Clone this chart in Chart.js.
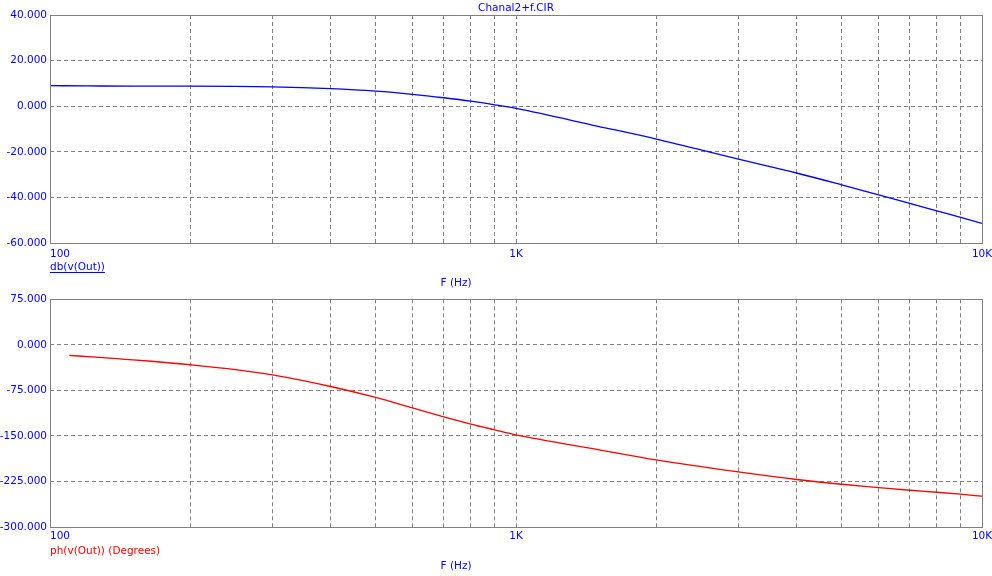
<!DOCTYPE html>
<html>
<head>
<meta charset="utf-8">
<script src="https://cdn.jsdelivr.net/npm/chart.js@4/dist/chart.umd.min.js"></script>
<style>
  body { margin: 0; background: #fff; }
  #wrap { position: relative; width: 992px; height: 576px; }
  canvas { position: absolute; left: 0; }
  #magChart { top: 0; }
  #phaseChart { top: 290px; }
</style>
</head>
<body>
<div id="wrap">
  <canvas id="magChart" width="992" height="290"></canvas>
  <canvas id="phaseChart" width="992" height="286"></canvas>
</div>
<script>
// Values
const magFreq = [100, 120, 150, 200, 300, 400, 500, 600, 700, 800, 900, 1000, 1500, 2000, 3000, 4000, 5000, 6000, 7000, 8000, 9000, 10000];
const magDb = [9.0, 8.9, 8.8, 8.8, 8.5, 7.7, 6.6, 5.2, 3.7, 2.2, 0.6, -1.0, -8.8, -14.4, -23.2, -29.3, -34.5, -38.9, -42.6, -45.9, -48.8, -51.4];

const phaseFreq = [110, 125, 145, 165, 200, 250, 300, 400, 500, 600, 700, 800, 900, 1000, 1500, 2000, 3000, 4000, 5000, 6000, 7000, 8000, 9000, 10000];
const phaseDeg = [-17.5, -20.2, -23.8, -27.0, -32.8, -40.8, -49.5, -68.6, -86.7, -104.0, -118.6, -130.5, -140.0, -148.3, -172.4, -189.5, -209.3, -221.8, -229.6, -235.0, -239.5, -242.8, -246.0, -249.3];

const freqGrid = [100, 200, 300, 400, 500, 600, 700, 800, 900, 1000, 2000, 3000, 4000, 5000, 6000, 7000, 8000, 9000, 10000];
const xLabelValues = [100, 1000, 10000];
const xLabelText = ["100", "1K", "10K"];

const FONT = "10.5px 'DejaVu Sans'";
const BLUE = "#0000ff";
const RED = "#ff0000";
const GRAY = "#808080";

function xy(xs, ys) {
  return xs.map((x, i) => ({ x: x, y: ys[i] }));
}

// hide the dashed line on the frame edges, the frame is drawn solid
function gridColor(ctx) {
  const n = ctx.scale.ticks.length;
  return (ctx.index === 0 || ctx.index === n - 1) ? "rgba(0,0,0,0)" : GRAY;
}

// frame + x labels + captions
function framePlugin(opts) {
  return {
    id: "frame",
    afterDraw(chart) {
      const c = chart.ctx;
      const a = chart.chartArea;
      const xs = chart.scales.x;
      c.save();
      c.strokeStyle = GRAY;
      c.lineWidth = 1;
      c.strokeRect(Math.round(a.left) + 0.5, Math.round(a.top) + 0.5,
        Math.round(a.right - a.left), Math.round(a.bottom - a.top));

      c.font = FONT;
      c.fillStyle = BLUE;
      c.textBaseline = "alphabetic";
      xLabelValues.forEach((v, i) => {
        const px = xs.getPixelForValue(v);
        c.textAlign = i === 0 ? "left" : "center";
        c.fillText(xLabelText[i], px, opts.tickY);
      });

      c.textAlign = "center";
      c.fillText("F (Hz)", 456, opts.unitY);

      c.textAlign = "left";
      c.fillStyle = opts.captionColor;
      c.fillText(opts.caption, a.left, opts.captionY);
      if (opts.underline) {
        const w = c.measureText(opts.caption).width;
        c.fillRect(a.left, opts.captionY + 2, w, 1);
      }
      if (opts.title) {
        c.fillStyle = BLUE;
        c.textAlign = "center";
        c.fillText(opts.title, (a.left + a.right) / 2, 11);
      }
      c.restore();
    }
  };
}

function makeChart(id, data, color, yMin, yMax, yStep, pad, plugOpts) {
  return new Chart(document.getElementById(id), {
    type: "line",
    data: {
      datasets: [{
        data: data,
        borderColor: color,
        borderWidth: 1.3,
        pointRadius: 0,
        fill: false,
        cubicInterpolationMode: "monotone"
      }]
    },
    options: {
      responsive: false,
      animation: false,
      layout: { padding: pad },
      plugins: { legend: { display: false }, tooltip: { enabled: false } },
      scales: {
        x: {
          type: "logarithmic",
          min: 100,
          max: 10000,
          afterBuildTicks: (s) => { s.ticks = freqGrid.map((v) => ({ value: v })); },
          afterFit: (s) => { s.height = 0; },
          ticks: { display: false },
          grid: { color: gridColor, drawTicks: false, lineWidth: 1 },
          border: { display: false, dash: [4, 3] }
        },
        y: {
          min: yMin,
          max: yMax,
          afterFit: (s) => { s.width = 50; },
          ticks: {
            stepSize: yStep,
            padding: 3,
            color: BLUE,
            font: { family: "DejaVu Sans", size: 10.5 },
            callback: (v) => v.toFixed(3)
          },
          grid: { color: gridColor, drawTicks: false, lineWidth: 1 },
          border: { display: false, dash: [4, 3] }
        }
      }
    },
    plugins: [framePlugin(plugOpts)]
  });
}

makeChart("magChart", xy(magFreq, magDb), BLUE, -60, 40, 20,
  { top: 15, bottom: 47, left: 0, right: 10 },
  { tickY: 256.5, unitY: 286, caption: "db(v(Out))", captionColor: BLUE, captionY: 270, underline: true, title: "Chanal2+f.CIR" });

makeChart("phaseChart", xy(phaseFreq, phaseDeg), RED, -300, 75, 75,
  { top: 8, bottom: 49, left: 0, right: 10 },
  { tickY: 248.5, unitY: 279, caption: "ph(v(Out)) (Degrees)", captionColor: RED, captionY: 264, underline: false });
</script>
</body>
</html>
